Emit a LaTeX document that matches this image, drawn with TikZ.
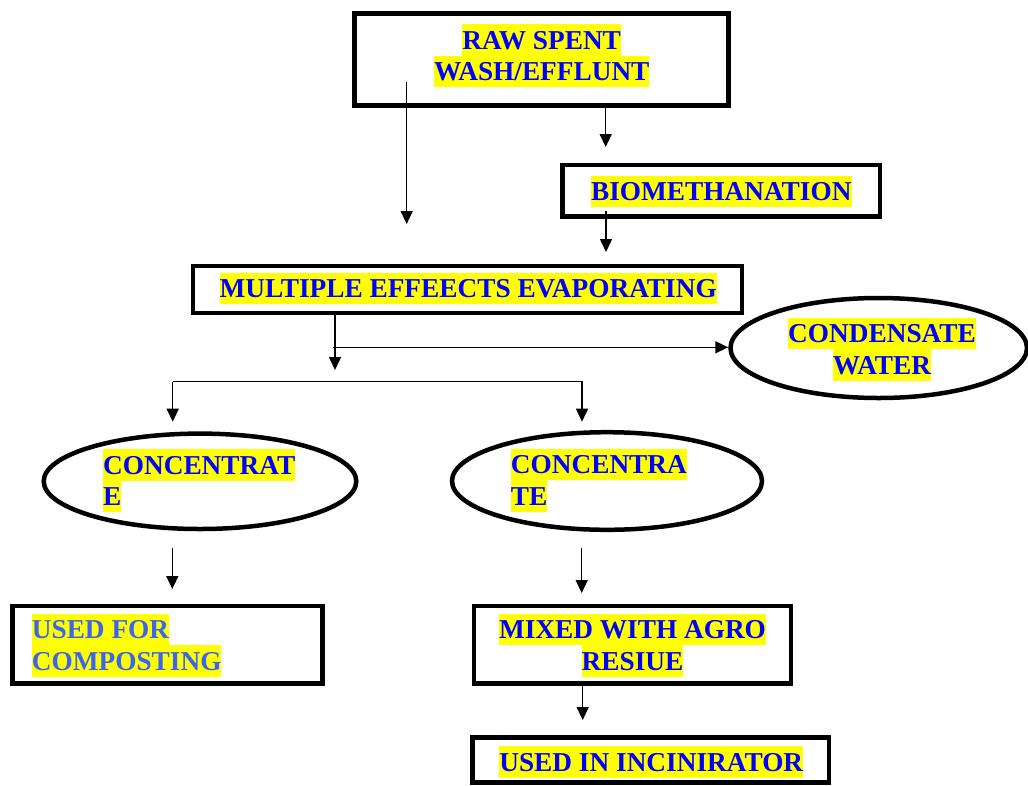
\documentclass[tikz,border=0pt]{standalone}
\usepackage{fontspec}
\setmainfont{Liberation Serif}[BoldFont={Liberation Serif Bold}]
\usetikzlibrary{shapes.geometric,arrows.meta}
\definecolor{tblue}{RGB}{0,0,255}
\definecolor{cblue}{RGB}{60,100,240}
\definecolor{hly}{RGB}{255,255,0}
\newcommand\hlt[1]{{\setlength{\fboxsep}{0pt}\colorbox{hly}{\rule[-6.5pt]{0pt}{31.5pt}#1}}}
\begin{document}
\begin{tikzpicture}[x=1pt,y=-1pt,
 boxnode/.style={draw, line width=4.5pt, inner sep=0pt, rectangle},
 ellnode/.style={draw, line width=4.5pt, inner sep=0pt, ellipse},
 txt/.style={inner sep=0pt, font=\fontsize{27.3}{31.5}\selectfont\bfseries, text=tblue},
 arr/.style={line width=1.5pt, -{Triangle[length=13pt,width=12pt]}},
 ln/.style={line width=1.5pt}]
\useasboundingbox (0,0) rectangle (1028,785);

% shapes
\node[boxnode, minimum width=374pt, minimum height=92pt] (raw) at (541.5,59.5) {};
\node[boxnode, minimum width=317.7pt, minimum height=51.7pt] (bio) at (721.35,190.65) {};
\node[boxnode, minimum width=548.6pt, minimum height=47pt] (mee) at (467.5,289.3) {};
\node[ellnode, minimum width=296.5pt, minimum height=100pt] (cond) at (878.75,348) {};
\node[ellnode, minimum width=312.6pt, minimum height=95.4pt] (c1) at (200,481.3) {};
\node[ellnode, minimum width=310pt, minimum height=97.6pt] (c2) at (607,481) {};
\node[boxnode, minimum width=310pt, minimum height=77.7pt] (comp) at (167.5,644.65) {};
\node[boxnode, minimum width=316.6pt, minimum height=77.7pt] (mix) at (632.5,644.65) {};
\node[boxnode, minimum width=356.7pt, minimum height=45pt] (inc) at (650.85,760) {};

% texts
\node[txt, align=center] (rawt) at (541.7,55.5) {\hlt{RAW SPENT}\\\hlt{WASH/EFFLUNT}};
\node[txt] (biot) at (721.3,191.3) {\hlt{BIOMETHANATION}};
\node[txt] (meet) at (468.2,288.7) {\hlt{MULTIPLE EFFEECTS EVAPORATING}};
\node[txt, align=center] (condt) at (882,349.3) {\hlt{CONDENSATE}\\\hlt{WATER}};
\node[txt, align=left] (c1t) at (199.2,480.5) {\hlt{CONCENTRAT}\\\hlt{E}};
\node[txt, align=left] (c2t) at (598.9,480) {\hlt{CONCENTRA}\\\hlt{TE}};
\node[txt, align=left, anchor=west, text=cblue] (compt) at (31.7,645.3) {\hlt{USED FOR}\\\hlt{COMPOSTING}};
\node[txt, align=center] (mixt) at (632.5,645.3) {\hlt{MIXED WITH AGRO}\\\hlt{RESIUE}};
\node[txt] (inct) at (651.3,762) {\hlt{USED IN INCINIRATOR}};

% connector points
\coordinate (rawL) at (406.7,82);
\coordinate (rawLtip) at (406.7,224);
\coordinate (rawRtip) at (605.7,147);
\coordinate (bioS) at (606,211);
\coordinate (bioStip) at (606,252);
\coordinate (meeDtip) at (335,370);
\coordinate (condS) at (333.3,347.3);
\coordinate (brL) at (172.7,381.7);
\coordinate (brR) at (582,381.7);
\coordinate (brLtip) at (172.7,421.7);
\coordinate (brRtip) at (582,421.7);
\coordinate (c1S) at (172.3,548.3);
\coordinate (c1Stip) at (172.3,589);
\coordinate (c2S) at (581.7,548.3);
\coordinate (c2Stip) at (581.7,593);
\coordinate (mixStip) at (582.7,720);

% connectors
\draw[arr] (rawL) -- (rawLtip);
\draw[arr] (raw.south -| rawRtip) -- (rawRtip);
\draw[arr] (bioS) -- (bioStip);
\draw[arr] (mee.south -| meeDtip) -- (meeDtip);
\draw[arr] (condS) -- (condS -| cond.west);
\draw[arr] (brL) -- (brLtip);
\draw[arr] (brL) -- (brR) -- (brRtip);
\draw[arr] (c1S) -- (c1Stip);
\draw[arr] (c2S) -- (c2Stip);
\draw[arr] (mix.south -| mixStip) -- (mixStip);
\end{tikzpicture}
\end{document}
